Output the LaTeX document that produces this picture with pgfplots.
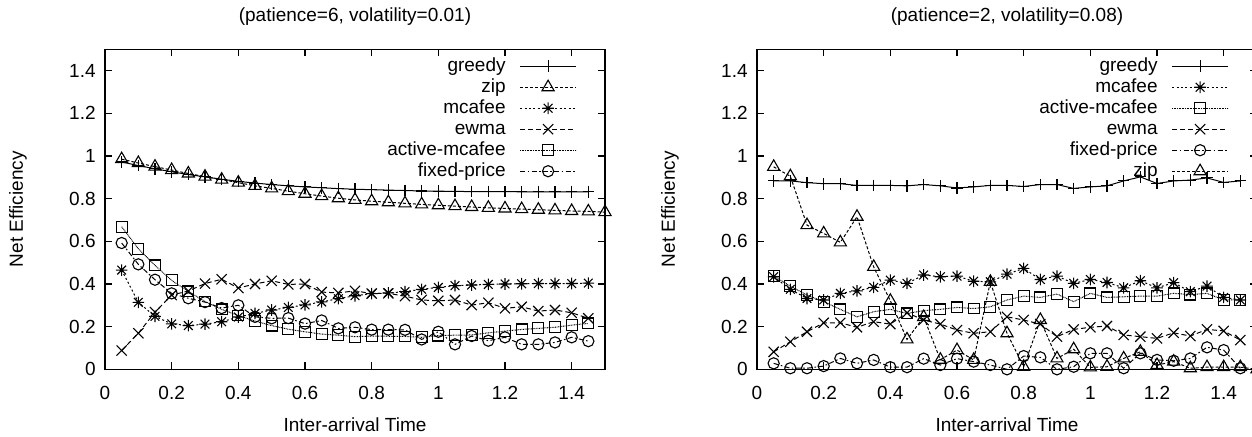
\documentclass[border=0pt]{standalone}
\usepackage{fontspec}
\setmainfont{Liberation Sans}
\usepackage{pgfplots}
\usepackage{pgfplotstable}
\pgfplotsset{compat=1.18}

\pgfdeclareplotmark{gpstar}{%
  \pgfpathmoveto{\pgfqpoint{-\pgfplotmarksize}{0pt}}\pgfpathlineto{\pgfqpoint{\pgfplotmarksize}{0pt}}%
  \pgfpathmoveto{\pgfqpoint{0pt}{-\pgfplotmarksize}}\pgfpathlineto{\pgfqpoint{0pt}{\pgfplotmarksize}}%
  \pgfpathmoveto{\pgfqpoint{-.75\pgfplotmarksize}{-.75\pgfplotmarksize}}\pgfpathlineto{\pgfqpoint{.75\pgfplotmarksize}{.75\pgfplotmarksize}}%
  \pgfpathmoveto{\pgfqpoint{-.75\pgfplotmarksize}{.75\pgfplotmarksize}}\pgfpathlineto{\pgfqpoint{.75\pgfplotmarksize}{-.75\pgfplotmarksize}}%
  \pgfusepathqstroke}

\pgfplotstableread{
x greedy mcafee ewma active fixed
0.05 0.972 0.465 0.088 0.668 0.592
0.10 0.955 0.314 0.169 0.565 0.492
0.15 0.940 0.248 0.268 0.487 0.420
0.20 0.926 0.213 0.348 0.417 0.356
0.25 0.913 0.205 0.367 0.365 0.333
0.30 0.902 0.212 0.402 0.318 0.315
0.35 0.891 0.223 0.422 0.281 0.287
0.40 0.881 0.245 0.381 0.252 0.300
0.45 0.873 0.262 0.400 0.226 0.246
0.50 0.866 0.278 0.415 0.205 0.239
0.55 0.860 0.290 0.398 0.188 0.240
0.60 0.855 0.302 0.400 0.176 0.214
0.65 0.851 0.316 0.362 0.165 0.229
0.70 0.847 0.331 0.358 0.160 0.192
0.75 0.844 0.345 0.368 0.153 0.197
0.80 0.842 0.355 0.355 0.156 0.186
0.85 0.840 0.358 0.356 0.155 0.186
0.90 0.838 0.364 0.343 0.154 0.185
0.95 0.836 0.375 0.325 0.150 0.140
1.00 0.835 0.384 0.321 0.158 0.176
1.05 0.834 0.392 0.325 0.160 0.117
1.10 0.833 0.395 0.301 0.161 0.156
1.15 0.833 0.398 0.312 0.171 0.134
1.20 0.833 0.400 0.286 0.179 0.150
1.25 0.832 0.401 0.293 0.187 0.117
1.30 0.832 0.402 0.273 0.192 0.117
1.35 0.832 0.402 0.278 0.197 0.126
1.40 0.832 0.402 0.265 0.207 0.150
1.45 0.832 0.404 0.239 0.215 0.132
}\leftdata

\pgfplotstableread{
x zip
0.05 0.985
0.10 0.967
0.15 0.950
0.20 0.934
0.25 0.918
0.30 0.903
0.35 0.889
0.40 0.875
0.45 0.860
0.50 0.848
0.55 0.835
0.60 0.823
0.65 0.812
0.70 0.802
0.75 0.794
0.80 0.788
0.85 0.783
0.90 0.778
0.95 0.773
1.00 0.769
1.05 0.765
1.10 0.761
1.15 0.757
1.20 0.754
1.25 0.751
1.30 0.748
1.35 0.745
1.40 0.742
1.45 0.740
1.50 0.737
}\leftzip

\pgfplotstableread{
x greedy mcafee active ewma fixed
0.05 0.883 0.434 0.437 0.082 0.028
0.10 0.883 0.375 0.390 0.129 0.005
0.15 0.875 0.332 0.348 0.176 0.005
0.20 0.870 0.325 0.317 0.218 0.015
0.25 0.870 0.356 0.281 0.218 0.051
0.30 0.862 0.368 0.246 0.197 0.028
0.35 0.862 0.384 0.270 0.223 0.044
0.40 0.862 0.418 0.281 0.212 0.010
0.45 0.860 0.403 0.262 0.265 0.010
0.50 0.866 0.442 0.275 0.231 0.050
0.55 0.860 0.434 0.281 0.212 0.020
0.60 0.850 0.437 0.290 0.184 0.050
0.65 0.855 0.413 0.285 0.169 0.036
0.70 0.862 0.410 0.293 0.176 0.020
0.75 0.862 0.446 0.325 0.246 0.000
0.80 0.857 0.473 0.343 0.231 0.062
0.85 0.866 0.421 0.337 0.212 0.056
0.90 0.866 0.437 0.353 0.153 0.000
0.95 0.848 0.403 0.317 0.187 0.012
1.00 0.855 0.421 0.356 0.197 0.075
1.05 0.860 0.407 0.337 0.203 0.075
1.10 0.883 0.382 0.340 0.161 0.005
1.15 0.902 0.415 0.343 0.153 0.075
1.20 0.871 0.382 0.343 0.145 0.044
1.25 0.883 0.406 0.356 0.171 0.040
1.30 0.887 0.364 0.350 0.156 0.051
1.35 0.897 0.390 0.356 0.187 0.103
1.40 0.876 0.337 0.325 0.180 0.090
1.45 0.883 0.325 0.325 0.137 0.005
}\rightdata

\pgfplotstableread{
x zip
0.05 0.949
0.10 0.905
0.15 0.676
0.20 0.637
0.25 0.595
0.30 0.715
0.35 0.480
0.40 0.321
0.45 0.140
0.50 0.245
0.55 0.045
0.60 0.090
0.65 0.044
0.70 0.410
0.75 0.169
0.80 0.012
0.85 0.231
0.90 0.051
0.95 0.094
1.00 0.009
1.05 0.012
1.10 0.051
1.15 0.082
1.20 0.020
1.25 0.036
1.30 0.005
1.35 0.010
1.40 0.010
1.45 0.010
1.50 0.000
}\rightzip

\pgfplotsset{
  gp/.style={
    scale only axis, width=250pt, height=160pt, anchor=south west,
    xmin=0, xmax=1.5, ymin=0, ymax=1.5, clip=false,
    xtick={0,0.2,0.4,0.6,0.8,1,1.2,1.4},
    ytick={0,0.2,0.4,0.6,0.8,1,1.2,1.4},
    tick align=inside, major tick length=3.5pt,
    axis line style={line width=0.7pt},
    every tick/.style={line width=0.6pt, black},
    font=\fontsize{9.5}{11}\selectfont,
    /pgf/number format/assume math mode=true,
    xticklabel style={anchor=base, yshift=-15pt, inner sep=0pt},
    yticklabel style={anchor=east, inner sep=0pt, xshift=-4.5pt},
    every axis title/.style={at={(axis description cs:0.5,1.0875)}, anchor=base},
    every axis x label/.style={at={(axis description cs:0.5,-0.19375)}, anchor=base},
    every axis y label/.style={at={(axis description cs:-0.174,0.5)}, rotate=90, anchor=center},
    xlabel={Inter-arrival Time}, ylabel={Net Efficiency},
    legend plot pos=right, legend cell align=right,
    legend style={draw=none, fill=none, at={(axis description cs:1,1)}, anchor=north east,
      xshift=-14pt, yshift=-3.75pt, inner sep=0pt, column sep=7pt, row sep=1.5pt,
      nodes={inner sep=0pt, text height=7pt, text depth=2pt}},
    legend image code/.code={\draw[mark repeat=2,mark phase=2,#1] plot coordinates {(0pt,0pt) (14pt,0pt) (28pt,0pt)};},
    every axis plot/.append style={line width=0.5pt, black, mark options={solid, line width=0.55pt}},
  },
  sgreedy/.style={solid, mark=+, mark size=2.9pt},
  szip/.style={dash pattern=on 1.5pt off 1pt, mark=triangle, mark size=3.5pt},
  smcafee/.style={dash pattern=on 1pt off 1.2pt, mark=gpstar, mark size=2.9pt},
  sewma/.style={dash pattern=on 2.5pt off 1.5pt, mark=x, mark size=3.6pt},
  sactive/.style={dash pattern=on 0.4pt off 0.4pt, mark=square, mark size=2.7pt},
  sfixed/.style={dash pattern=on 2.5pt off 1.2pt on 0.8pt off 1.2pt, mark=o, mark size=2.8pt},
}

\begin{document}
\begin{tikzpicture}
\begin{axis}[gp, at={(52.5pt,33.35pt)}, title={(patience=6, volatility=0.01)}]
\addplot[sgreedy] table[x=x, y=greedy] {\leftdata};
\addlegendentry{greedy}
\addplot[szip] table[x=x, y=zip] {\leftzip};
\addlegendentry{zip}
\addplot[smcafee] table[x=x, y=mcafee] {\leftdata};
\addlegendentry{mcafee}
\addplot[sewma] table[x=x, y=ewma] {\leftdata};
\addlegendentry{ewma}
\addplot[sactive] table[x=x, y=active] {\leftdata};
\addlegendentry{active-mcafee}
\addplot[sfixed] table[x=x, y=fixed] {\leftdata};
\addlegendentry{fixed-price}
\end{axis}
\begin{axis}[gp, at={(378.5pt,33.35pt)}, title={(patience=2, volatility=0.08)}]
\addplot[sgreedy] table[x=x, y=greedy] {\rightdata};
\addlegendentry{greedy}
\addplot[smcafee] table[x=x, y=mcafee] {\rightdata};
\addlegendentry{mcafee}
\addplot[sactive] table[x=x, y=active] {\rightdata};
\addlegendentry{active-mcafee}
\addplot[sewma] table[x=x, y=ewma] {\rightdata};
\addlegendentry{ewma}
\addplot[sfixed] table[x=x, y=fixed] {\rightdata};
\addlegendentry{fixed-price}
\addplot[szip] table[x=x, y=zip] {\rightzip};
\addlegendentry{zip}
\end{axis}
\pgfresetboundingbox
\useasboundingbox (0,0) rectangle (626pt,218pt);
\end{tikzpicture}
\end{document}
